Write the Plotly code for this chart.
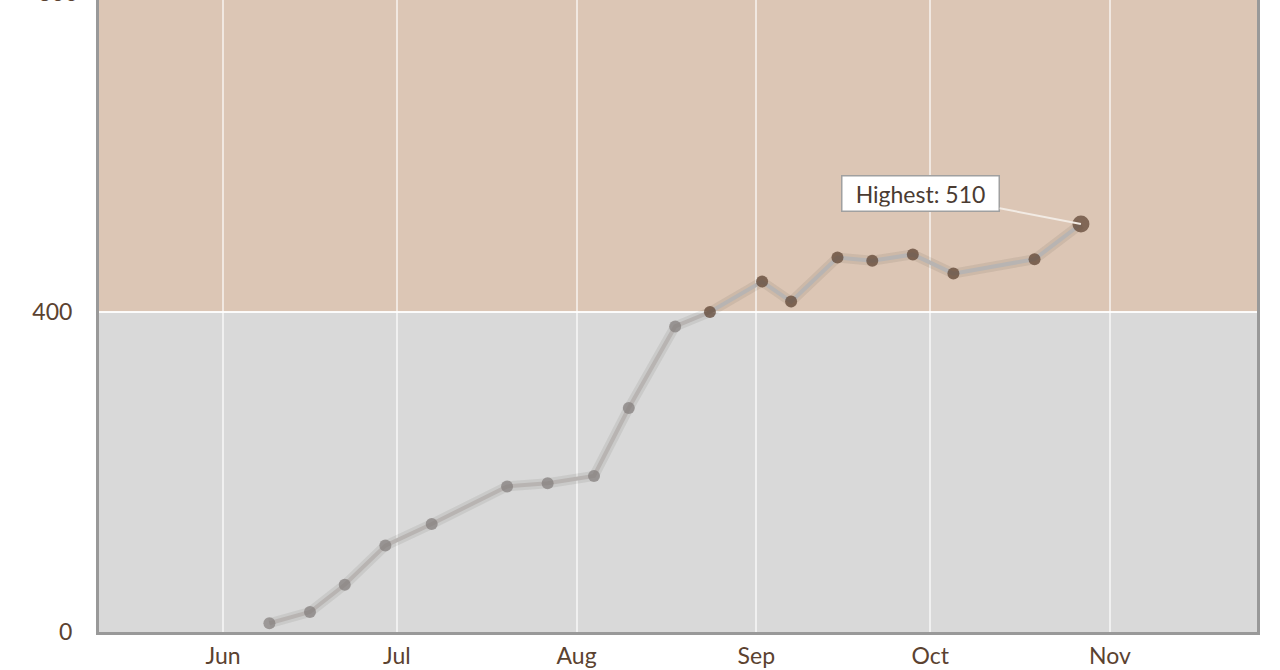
import pandas as pd
import plotly.graph_objects as go

# ---- data ----
dates = ["2016-06-09", "2016-06-16", "2016-06-22", "2016-06-29", "2016-07-07",
         "2016-07-20", "2016-07-27", "2016-08-04", "2016-08-10", "2016-08-18",
         "2016-08-24", "2016-09-02", "2016-09-07", "2016-09-15", "2016-09-21",
         "2016-09-28", "2016-10-05", "2016-10-19", "2016-10-27"]
values = [11, 25, 59, 108, 135, 182, 186, 195, 280, 382, 400, 438, 413, 468, 464,
          472, 448, 466, 510]
threshold = 400
y_ticks = [0, 400, 800]
x_tick_dates = ["2016-06-01", "2016-07-01", "2016-08-01", "2016-09-01", "2016-10-01", "2016-11-01"]
x_tick_text = ["Jun<br>2016", "Jul", "Aug", "Sep", "Oct", "Nov"]
highest_label = "Highest: 510"

# ---- styling ----
FONT = "Lato, 'Open Sans', sans-serif"
TEXT = "#5b4230"
GRAY_PT = "#817c7a"
BROWN_PT = "#5a3f2d"
FS = 23

colors = [BROWN_PT if v >= threshold else GRAY_PT for v in values]
sizes = [12] * len(values)
imax = values.index(max(values))
sizes[imax] = 17

x0 = pd.Timestamp("2016-05-10 14:30")
x1 = pd.Timestamp("2016-11-26 09:00")

fig = go.Figure()
# soft shadow line
fig.add_trace(go.Scatter(x=dates, y=values, mode="lines",
                         line=dict(color="rgba(60,50,45,0.09)", width=10),
                         hoverinfo="skip", showlegend=False))
fig.add_trace(go.Scatter(x=dates, y=values, mode="lines",
                         line=dict(color="#b8b4b2", width=4),
                         hoverinfo="skip", showlegend=False))
fig.add_trace(go.Scatter(x=dates, y=values, mode="markers",
                         marker=dict(color=colors, size=sizes, line=dict(width=0)),
                         showlegend=False))

# background bands
fig.add_shape(type="rect", xref="paper", yref="y", x0=0, x1=1, y0=0, y1=threshold,
              fillcolor="#d9d9d9", line_width=0, layer="below")
fig.add_shape(type="rect", xref="paper", yref="y", x0=0, x1=1, y0=threshold, y1=800,
              fillcolor="#dcc6b5", line_width=0, layer="below")

fig.add_annotation(x=dates[imax], y=values[imax], text=highest_label,
                   showarrow=True, arrowhead=0, arrowwidth=2, arrowcolor="#f2ebe4",
                   ax=-160, ay=-31, bgcolor="white", bordercolor="#a0a0a0",
                   borderwidth=1.5, borderpad=4, width=148, height=26,
                   font=dict(family=FONT, size=FS, color="#4a3b32"))

# partially visible top tick label (cut off by the figure edge)
fig.add_annotation(xref="paper", yref="paper", x=0, y=1 + 8 / 632, xanchor="right",
                   yanchor="middle", xshift=-19, showarrow=False, text="800",
                   font=dict(family=FONT, size=FS, color=TEXT))

fig.update_layout(
    width=1280, height=670,
    margin=dict(l=99, r=23, t=0, b=38),
    paper_bgcolor="white", plot_bgcolor="rgba(0,0,0,0)",
    font=dict(family=FONT, size=FS, color=TEXT),
    xaxis=dict(type="date", range=[x0, x1], tickvals=x_tick_dates, ticktext=x_tick_text,
               showgrid=True, gridcolor="rgba(255,255,255,0.6)", gridwidth=2,
               showline=True, linecolor="#999999", linewidth=3, mirror=False,
               ticks="", ticklabelstandoff=1, zeroline=False, automargin=False,
               tickfont=dict(family=FONT, size=FS, color=TEXT)),
    yaxis=dict(range=[0, 790], tickvals=y_ticks,
               showgrid=True, gridcolor="rgba(255,255,255,0.9)", gridwidth=2,
               showline=True, linecolor="#999999", linewidth=3, mirror=True,
               ticks="", ticklabelstandoff=19, zeroline=False, automargin=False,
               tickfont=dict(family=FONT, size=FS, color=TEXT)),
)

fig.write_html("out.html", config={"displayModeBar": False},
               post_script="document.body.style.margin='0';")
